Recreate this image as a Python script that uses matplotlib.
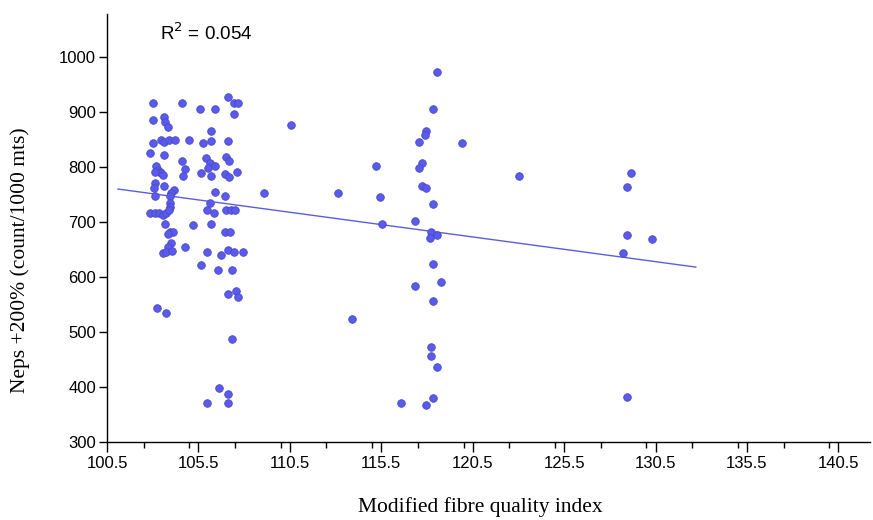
import matplotlib
matplotlib.use("Agg")
import matplotlib.pyplot as plt
import numpy as np
from matplotlib.ticker import MultipleLocator

# Modified fibre quality index (x) and Neps +200% (y)
mfqi = [103.0, 104.6, 105.56, 106.38, 107.13, 107.42, 107.66, 107.44, 103.0, 103.61,
        103.69, 103.83, 106.16, 103.0, 103.47, 103.61, 103.88, 104.21, 104.98, 105.74,
        106.16, 107.13, 102.83, 103.61, 104.59, 105.93, 106.11, 106.38, 106.02, 107.02,
        107.15, 103.19, 103.28, 103.37, 103.47, 103.55, 103.15, 104.74, 104.65, 105.66,
        106.16, 106.97, 107.15, 107.6, 103.1, 103.05, 103.61, 104.19, 104.01, 103.92,
        103.15, 106.38, 106.97, 109.08, 106.15, 103.96, 103.92, 102.83, 103.1, 103.34,
        103.55, 103.74, 103.87, 105.96, 106.35, 107.02, 107.26, 107.48, 103.69, 105.2,
        106.16, 103.92, 104.1, 103.83, 106.93, 107.2, 104.01, 103.83, 104.74, 103.55,
        103.74, 104.07, 105.98, 106.75, 107.13, 107.44, 107.93, 105.66, 106.56, 107.33,
        107.13, 107.53, 107.66, 103.23, 103.7, 107.33, 106.62, 107.13, 105.98, 107.13,
        110.58, 118.55, 118.33, 117.97, 117.88, 117.57, 119.92, 115.2, 117.75, 117.57,
        113.13, 115.42, 117.75, 117.97, 118.33, 115.54, 117.37, 118.24, 118.52, 118.15,
        118.33, 117.37, 118.75, 118.33, 113.92, 118.24, 118.24, 118.55, 116.6, 117.97,
        118.33, 123.04, 129.15, 128.95, 128.95, 130.32, 128.73, 128.95]
neps = [916, 917, 906, 906, 927, 917, 916, 896, 885, 890,
        881, 872, 866, 843, 849, 846, 849, 849, 849, 843,
        847, 847, 826, 821, 811, 817, 807, 802, 798, 819,
        811, 801, 795, 791, 789, 785, 791, 796, 784, 789,
        784, 787, 782, 791, 771, 761, 765, 759, 752, 747,
        748, 755, 748, 753, 735, 734, 728, 717, 716, 716,
        713, 717, 722, 721, 716, 722, 721, 721, 696, 695,
        696, 681, 682, 678, 681, 682, 661, 655, 655, 644,
        646, 648, 646, 640, 649, 645, 645, 622, 613, 613,
        569, 575, 563, 543, 535, 487, 399, 387, 370, 370,
        876, 973, 905, 865, 858, 845, 843, 802, 808, 799,
        752, 746, 765, 761, 733, 696, 702, 682, 676, 671,
        623, 584, 590, 556, 524, 472, 456, 437, 370, 367,
        380, 784, 789, 764, 676, 669, 643, 381]

# Linear fit line (as shown)
fit_intercept = 1213.8
fit_slope = -4.49
fit_x_range = [101.1, 132.7]
r2_label = "R$^2$ = 0.054"

xticks = [100.5, 105.5, 110.5, 115.5, 120.5, 125.5, 130.5, 135.5, 140.5]
yticks = [300, 400, 500, 600, 700, 800, 900, 1000]

fig = plt.figure(figsize=(8.73, 5.2), dpi=100)
ax = fig.add_axes([0.1226, 0.15, 0.874, 0.823])

ax.scatter(mfqi, neps, s=30, color="#5a5af0", edgecolors="#4b4bc0", linewidths=0.6, zorder=3)
fx = np.array(fit_x_range)
ax.plot(fx, fit_intercept + fit_slope * fx, color="#5c5ce0", lw=1.0, zorder=2)

ax.set_xlim(100.5, 142.23)
ax.set_ylim(300, 1078)
ax.set_xticks(xticks)
ax.set_xticklabels([f"{v:.1f}" for v in xticks])
ax.xaxis.set_minor_locator(MultipleLocator(2.5))
ax.set_yticks(yticks)

for s in ["top", "right"]:
    ax.spines[s].set_visible(False)
for s in ["left", "bottom"]:
    ax.spines[s].set_color("black")
    ax.spines[s].set_linewidth(1.0)

ax.tick_params(axis="x", which="major", direction="out", length=7, width=1,
               labelsize=12, colors="black", pad=3)
ax.tick_params(axis="y", which="major", direction="out", length=6, width=1,
               labelsize=12, colors="black", pad=2)
ax.tick_params(axis="x", which="minor", direction="out", length=4, width=1)
for lab in ax.get_xticklabels() + ax.get_yticklabels():
    lab.set_family("Liberation Sans")

ax.set_xlabel("Modified fibre quality index", family="Liberation Serif", fontsize=15.5)
ax.set_ylabel("Neps +200% (count/1000 mts)", family="Liberation Serif", fontsize=15.5)
ax.xaxis.set_label_coords(0.4895, -0.128)
ax.yaxis.set_label_coords(-0.101, 0.425)

ax.text(0.0696, 0.9556, r2_label, transform=ax.transAxes, family="Liberation Sans",
        fontsize=13.5, va="center", ha="left")

fig.savefig("out.png", dpi=100)
